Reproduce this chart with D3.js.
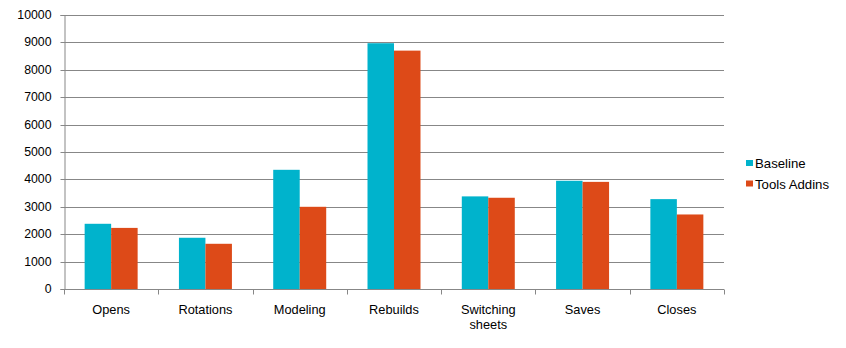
<!DOCTYPE html>
<html><head><meta charset="utf-8">
<script src="https://cdn.jsdelivr.net/npm/d3@7"></script>
<style>body{margin:0;background:#fff}svg{display:block}text{font-family:"Liberation Sans",Arial,sans-serif;fill:#000}</style>
</head><body><svg id="c" width="846" height="348"></svg>
<script>
const categories = ["Opens","Rotations","Modeling","Rebuilds","Switching sheets","Saves","Closes"];
const seriesNames = ["Baseline","Tools Addins"];
const baseline = [2380,1870,4350,8970,3380,3950,3280];
const toolsAddins = [2230,1650,3000,8700,3330,3910,2720];
const yTicks = [0,1000,2000,3000,4000,5000,6000,7000,8000,9000,10000];
const colors = ["#00B3CC","#DD4A18"];

const svg = d3.select("#c");
const L=64, R=724, T=15, B=289;
const x = d3.scaleBand().domain(categories).range([L,R]).paddingInner(0).paddingOuter(0);
const y = d3.scaleLinear().domain([0,10000]).range([B,T]);
const inner = d3.scaleBand().domain(seriesNames).range([x.bandwidth()*0.219, x.bandwidth()*0.781]);

// gridlines
svg.append("g").selectAll("line").data(yTicks).join("line")
  .attr("x1",L).attr("x2",R).attr("y1",d=>Math.round(y(d))+0.5).attr("y2",d=>Math.round(y(d))+0.5)
  .attr("stroke","#878787").attr("stroke-width",1);

// y axis
const ya = svg.append("g").attr("transform",`translate(${L+0.5},0)`)
  .call(d3.axisLeft(y).tickValues(yTicks).tickSize(4).tickPadding(9).tickFormat(d3.format("d")));
ya.selectAll("path,line").attr("stroke","#878787");
ya.selectAll("text").style("font-size","12.3px").attr("fill","#000");
ya.selectAll(".tick").attr("transform",d=>`translate(0,${Math.round(y(d))+0.5})`);

// bars
const data = categories.map((c,i)=>({c, vals:[baseline[i],toolsAddins[i]]}));
const g = svg.append("g").selectAll("g").data(data).join("g").attr("transform",d=>`translate(${x(d.c)},0)`);
g.selectAll("rect").data(d=>d.vals.map((v,j)=>({v,j}))).join("rect")
  .attr("x",d=>inner(seriesNames[d.j])).attr("width",inner.bandwidth())
  .attr("y",d=>y(d.v)).attr("height",d=>B-y(d.v)).attr("fill",d=>colors[d.j]);

// x axis
const xa = svg.append("g").attr("transform",`translate(0,${B+0.5})`);
xa.append("line").attr("x1",L).attr("x2",R).attr("stroke","#878787");
const bounds = categories.map(c=>x(c)).concat([R]);
xa.selectAll("line.t").data(bounds).join("line").attr("class","t")
  .attr("x1",d=>Math.round(d)+0.5).attr("x2",d=>Math.round(d)+0.5).attr("y1",0).attr("y2",5).attr("stroke","#878787");
xa.selectAll("text").data(categories).join("text")
  .attr("text-anchor","middle").style("font-size","12.8px")
  .attr("x",d=>x(d)+x.bandwidth()/2)
  .each(function(d){
    const words = d==="Switching sheets" ? ["Switching","sheets"] : [d];
    d3.select(this).selectAll("tspan").data(words).join("tspan")
      .attr("x",x(d)+x.bandwidth()/2).attr("y",(w,i)=>24+i*15).text(w=>w);
  });

// legend
const lg = svg.append("g").attr("transform","translate(746,160)");
seriesNames.forEach((s,i)=>{
  lg.append("rect").attr("x",0).attr("y",i*20.5).attr("width",7).attr("height",6).attr("fill",colors[i]);
  lg.append("text").attr("x",9).attr("y",i*20.5+8).style("font-size","13.2px").text(s);
});
</script></body></html>
